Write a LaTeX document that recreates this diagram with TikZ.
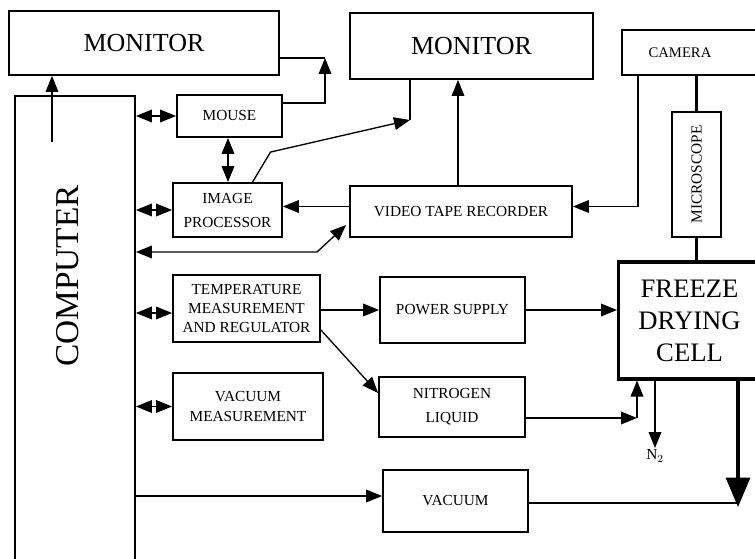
\documentclass[tikz,border=0pt]{standalone}
\usepackage{fontspec}
\setmainfont{Liberation Serif}
\usetikzlibrary{arrows.meta,calc}
\begin{document}
\begin{tikzpicture}[x=0.75pt,y=-0.75pt,
  box/.style={draw,line width=1.4pt,rectangle,inner sep=0pt,align=center,font=\fontsize{11.5}{14}\selectfont},
  big/.style={font=\fontsize{19.5}{23}\selectfont},
  con/.style={line width=1pt},
  thick con/.style={line width=2.3pt},
  tip/.tip={Triangle[length=12pt,width=9.5pt]},
  bigtip/.tip={Triangle[length=22pt,width=18pt]},
  oneway/.style={con,-tip},
  twoway/.style={con,tip-tip}]
\useasboundingbox (0,0) rectangle (755,559);
\clip (0,0) rectangle (755,559);
% boxes
\node[box,big,minimum width=202.5pt,minimum height=48pt] (mon1) at (144,43) {MONITOR};
\node[box,big,minimum width=182pt,minimum height=49.5pt] (mon2) at (471.5,46) {MONITOR};
\node[box,anchor=west,align=left,inner xsep=20pt,text width=75pt,minimum height=33.75pt,font=\fontsize{11}{13}\selectfont] (cam) at (621,52.5) {CAMERA};
\node[box,minimum width=90pt,minimum height=378pt,anchor=north] (comp) at (75,95) {};
\node[font=\fontsize{25}{30}\selectfont,rotate=90] (comptext) at (68,276) {COMPUTER};
\node[box,minimum width=78.75pt,minimum height=31.5pt] (mouse) at (229.5,116) {MOUSE};
\node[box,minimum width=81.75pt,minimum height=40.5pt,font=\fontsize{11.5}{18}\selectfont] (ip) at (227.5,210) {IMAGE\\PROCESSOR};
\node[box,minimum width=166.5pt,minimum height=38.25pt] (vtr) at (461,211.5) {VIDEO TAPE RECORDER};
\node[box,minimum width=36.75pt,minimum height=94pt] (mic) at (696.5,174.5) {};
\node[rotate=90,font=\fontsize{11.5}{14}\selectfont] (mictext) at (mic.center) {MICROSCOPE};
\node[box,line width=2.3pt,anchor=west,inner xsep=12pt,text width=82.5pt,minimum height=87.75pt,font=\fontsize{20}{24}\selectfont] (cell) at (617,320.5) {FREEZE\\DRYING\\CELL};
\node[box,minimum width=110.25pt,minimum height=50.25pt,font=\fontsize{11.5}{14.5}\selectfont] (temp) at (246.5,308.5) {TEMPERATURE\\MEASUREMENT\\AND REGULATOR};
\node[box,minimum width=108.75pt,minimum height=49.5pt] (power) at (452.5,310) {POWER SUPPLY};
\node[box,minimum width=109.5pt,minimum height=45pt,font=\fontsize{11.5}{18}\selectfont] (nitro) at (452,407) {NITROGEN\\LIQUID};
\node[box,minimum width=112.5pt,minimum height=50.25pt,font=\fontsize{11.5}{14.5}\selectfont] (vmeas) at (248,406.5) {VACUUM\\MEASUREMENT};
\node[box,minimum width=108.75pt,minimum height=46.5pt] (vac) at (455.5,501) {VACUUM};
% junction coordinates
\coordinate (cin) at (52,142);
\coordinate (j1) at (325,58);
\coordinate (j2) at (410,120);
\coordinate (j3) at (317,252);
\coordinate (j4) at (637,418);
\coordinate (n2) at (655,448);
\coordinate (j5) at (738,507);
\coordinate (mousebot) at ($(mouse.south)+(-1.5,0)$);
\coordinate (vtrtop) at ($(vtr.north)+(-3,0)$);
\coordinate (vtrleft) at ($(vtr.west)+(0,-5)$);
\coordinate (vtrright) at ($(vtr.east)+(0,-5)$);
\coordinate (camout) at ($(cam.south west)+(17,0)$);
\coordinate (vtrlow) at ($(vtr.west)+(-3,13.5)$);
\coordinate (mouseout) at ($(mouse.east)+(0,-13)$);
\coordinate (ipout) at ($(ip.north)+(25,0)$);
\coordinate (tempin) at ($(temp.west)+(0,4.5)$);
\coordinate (tempout) at ($(temp.east)+(0,21.5)$);
\coordinate (nitroin) at ($(nitro.west)+(0,-14)$);
\coordinate (nitroout) at ($(nitro.east)+(0,11)$);
\coordinate (vacout) at ($(vac.east)+(0,2)$);
\coordinate (vacin) at ($(vac.west)+(0,-5)$);
% connectors
\draw[oneway] (cin) -- (cin |- mon1.south);
\draw[con] (j1 -| mon1.east) -- (j1);
\draw[oneway] (mouseout) -| (j1);
\draw[twoway] (comp.east |- mouse.west) -- (mouse.west);
\draw[twoway] (mousebot) -- (mousebot |- ip.north);
\draw[twoway] (comp.east |- ip.west) -- (ip.west);
\draw[oneway] (ipout) -- ++(18,-30) -- (j2);
\draw[con] (j2 |- mon2.south) -- (j2);
\draw[oneway] (vtrtop) -- (vtrtop |- mon2.south);
\draw[oneway] (camout) |- (vtrright);
\draw[oneway] (vtrleft) -- (vtrleft -| ip.east);
\draw[twoway] (comp.east |- j3) -- (j3) -- (vtrlow);
\draw[thick con] (mic.north |- cam.south) -- (mic.north);
\draw[thick con] (mic.south) -- (mic.south |- cell.north);
\draw[twoway] (comp.east |- tempin) -- (tempin);
\draw[oneway] (temp.east |- power.west) -- (power.west);
\draw[oneway] (power.east) -- (power.east -| cell.west);
\draw[oneway] (tempout) -- (nitroin);
\draw[twoway] (comp.east |- vmeas.west) -- (vmeas.west);
\draw[oneway] (nitroout) -- (j4);
\draw[oneway] (j4) -- (j4 |- cell.south);
\draw[oneway] (n2 |- cell.south) -- (n2);
\node[font=\fontsize{11.5}{14}\selectfont,anchor=north,inner sep=1pt] (n2label) at (n2) {N$_2$};
\draw[thick con,-bigtip] (j5 |- cell.south) -- (j5);
\draw[con] (vacout) -- (vacout -| j5);
\draw[oneway] (comp.east |- vacin) -- (vacin);
\end{tikzpicture}
\end{document}
